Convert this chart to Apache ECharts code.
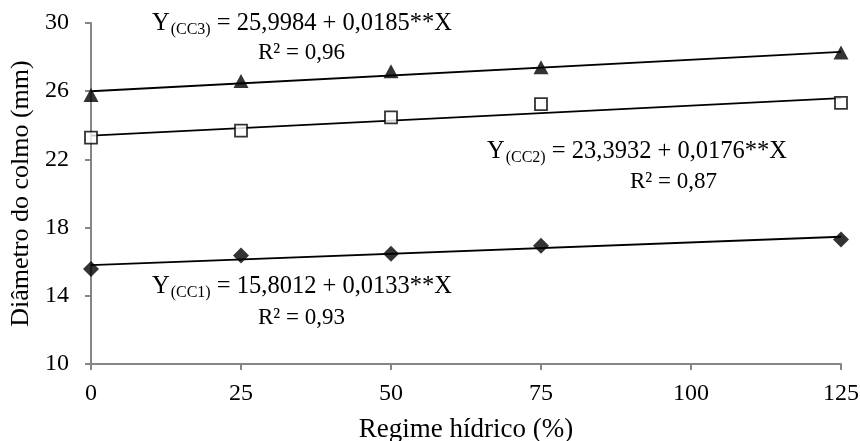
<!DOCTYPE html>
<html>
<head>
<meta charset="utf-8">
<script src="https://cdn.jsdelivr.net/npm/echarts@6/dist/echarts.min.js"></script>
<style>
  html, body { margin: 0; padding: 0; background: #fff; }
  #chart { width: 860px; height: 441px; }
</style>
</head>
<body>
<div id="chart"></div>
<script>
// regime hidrico (%) where the points were measured
var regime = [0, 25, 50, 75, 125];
// diametro do colmo (mm)
var cc1 = [15.57, 16.36, 16.47, 16.94, 17.3];
var cc2 = [23.28, 23.69, 24.46, 25.24, 25.31];
var cc3 = [25.77, 26.6, 27.17, 27.4, 28.27];
// fitted lines as printed on the chart: [intercept, slope]
var fit1 = [15.8012, 0.0133];
var fit2 = [23.3932, 0.0176];
var fit3 = [25.9984, 0.0185];
var xTicks = [0, 25, 50, 75, 100, 125];
var yTicks = [10, 14, 18, 22, 26, 30];

var FONT = '"Liberation Serif", "Times New Roman", serif';
var FS = 24;

function pts(ys) {
    return regime.map(function (x, i) { return [x, ys[i]]; });
}
function fitLine(f) {
    var x0 = xTicks[0], x1 = xTicks[xTicks.length - 1];
    return [[x0, f[0] + f[1] * x0], [x1, f[0] + f[1] * x1]];
}
function eqLabel(left, top, sub, rest) {
    return {
        type: 'text', left: left, top: top,
        style: {
            text: '{a|Y}{s|(' + sub + ')}{a| = ' + rest + '}',
            rich: {
                a: { fontFamily: FONT, fontSize: 24.5, fill: '#000', lineHeight: 30 },
                s: { fontFamily: FONT, fontSize: 16, fill: '#000', lineHeight: 30, padding: [12, 0, 0, 1] }
            }
        }
    };
}
function r2Label(left, top, txt) {
    return {
        type: 'text', left: left, top: top,
        style: { text: txt, fontFamily: FONT, fontSize: 23, fill: '#000' }
    };
}

var chart = echarts.init(document.getElementById('chart'));
var lineStyle = { color: '#000', width: 1.8 };

chart.setOption({
    animation: false,
    backgroundColor: '#fff',
    grid: { left: 91, right: 19, top: 23, bottom: 77, outerBoundsMode: 'none', containLabel: false },
    xAxis: {
        type: 'value', min: 0, max: 125, interval: 25,
        name: 'Regime hídrico (%)', nameLocation: 'middle', nameGap: 52, nameMoveOverlap: false,
        nameTextStyle: { fontFamily: FONT, fontSize: 27, color: '#000' },
        axisLine: { show: true, lineStyle: { color: '#868686', width: 2 } },
        axisTick: { show: true, length: 6, lineStyle: { color: '#868686', width: 2 } },
        axisLabel: { fontFamily: FONT, fontSize: FS, color: '#000', margin: 18 },
        splitLine: { show: false }
    },
    yAxis: {
        type: 'value', min: 10, max: 30, interval: 4,
        name: 'Diâmetro do colmo (mm)', nameLocation: 'middle', nameGap: 57, nameMoveOverlap: false,
        nameTextStyle: { fontFamily: FONT, fontSize: 26, color: '#000' },
        axisLine: { show: true, lineStyle: { color: '#868686', width: 2 } },
        axisTick: { show: true, length: 6, lineStyle: { color: '#868686', width: 2 } },
        axisLabel: { fontFamily: FONT, fontSize: FS, color: '#000', margin: 22 },
        splitLine: { show: false }
    },
    series: [
        { type: 'line', data: fitLine(fit1), symbol: 'none', lineStyle: lineStyle, z: 2 },
        { type: 'line', data: fitLine(fit2), symbol: 'none', lineStyle: lineStyle, z: 2 },
        { type: 'line', data: fitLine(fit3), symbol: 'none', lineStyle: lineStyle, z: 2 },
        { type: 'scatter', data: pts(cc1), symbol: 'diamond', symbolSize: [16, 16],
          itemStyle: { color: '#000' }, z: 3 },
        { type: 'scatter', data: pts(cc2), symbol: 'rect', symbolSize: [12, 12],
          itemStyle: { color: '#fff', borderColor: '#000', borderWidth: 1.8 }, z: 3 },
        { type: 'scatter', data: pts(cc3), symbol: 'triangle', symbolSize: [15, 14],
          itemStyle: { color: '#000' }, z: 3 }
    ],
    graphic: [
        eqLabel(152, 10, 'CC3', '25,9984 + 0,0185**X'),
        r2Label(258, 41, 'R² = 0,96'),
        eqLabel(487, 138, 'CC2', '23,3932 + 0,0176**X'),
        r2Label(630, 170, 'R² = 0,87'),
        eqLabel(152, 273, 'CC1', '15,8012 + 0,0133**X'),
        r2Label(258, 306, 'R² = 0,93')
    ]
});
</script>
</body>
</html>
